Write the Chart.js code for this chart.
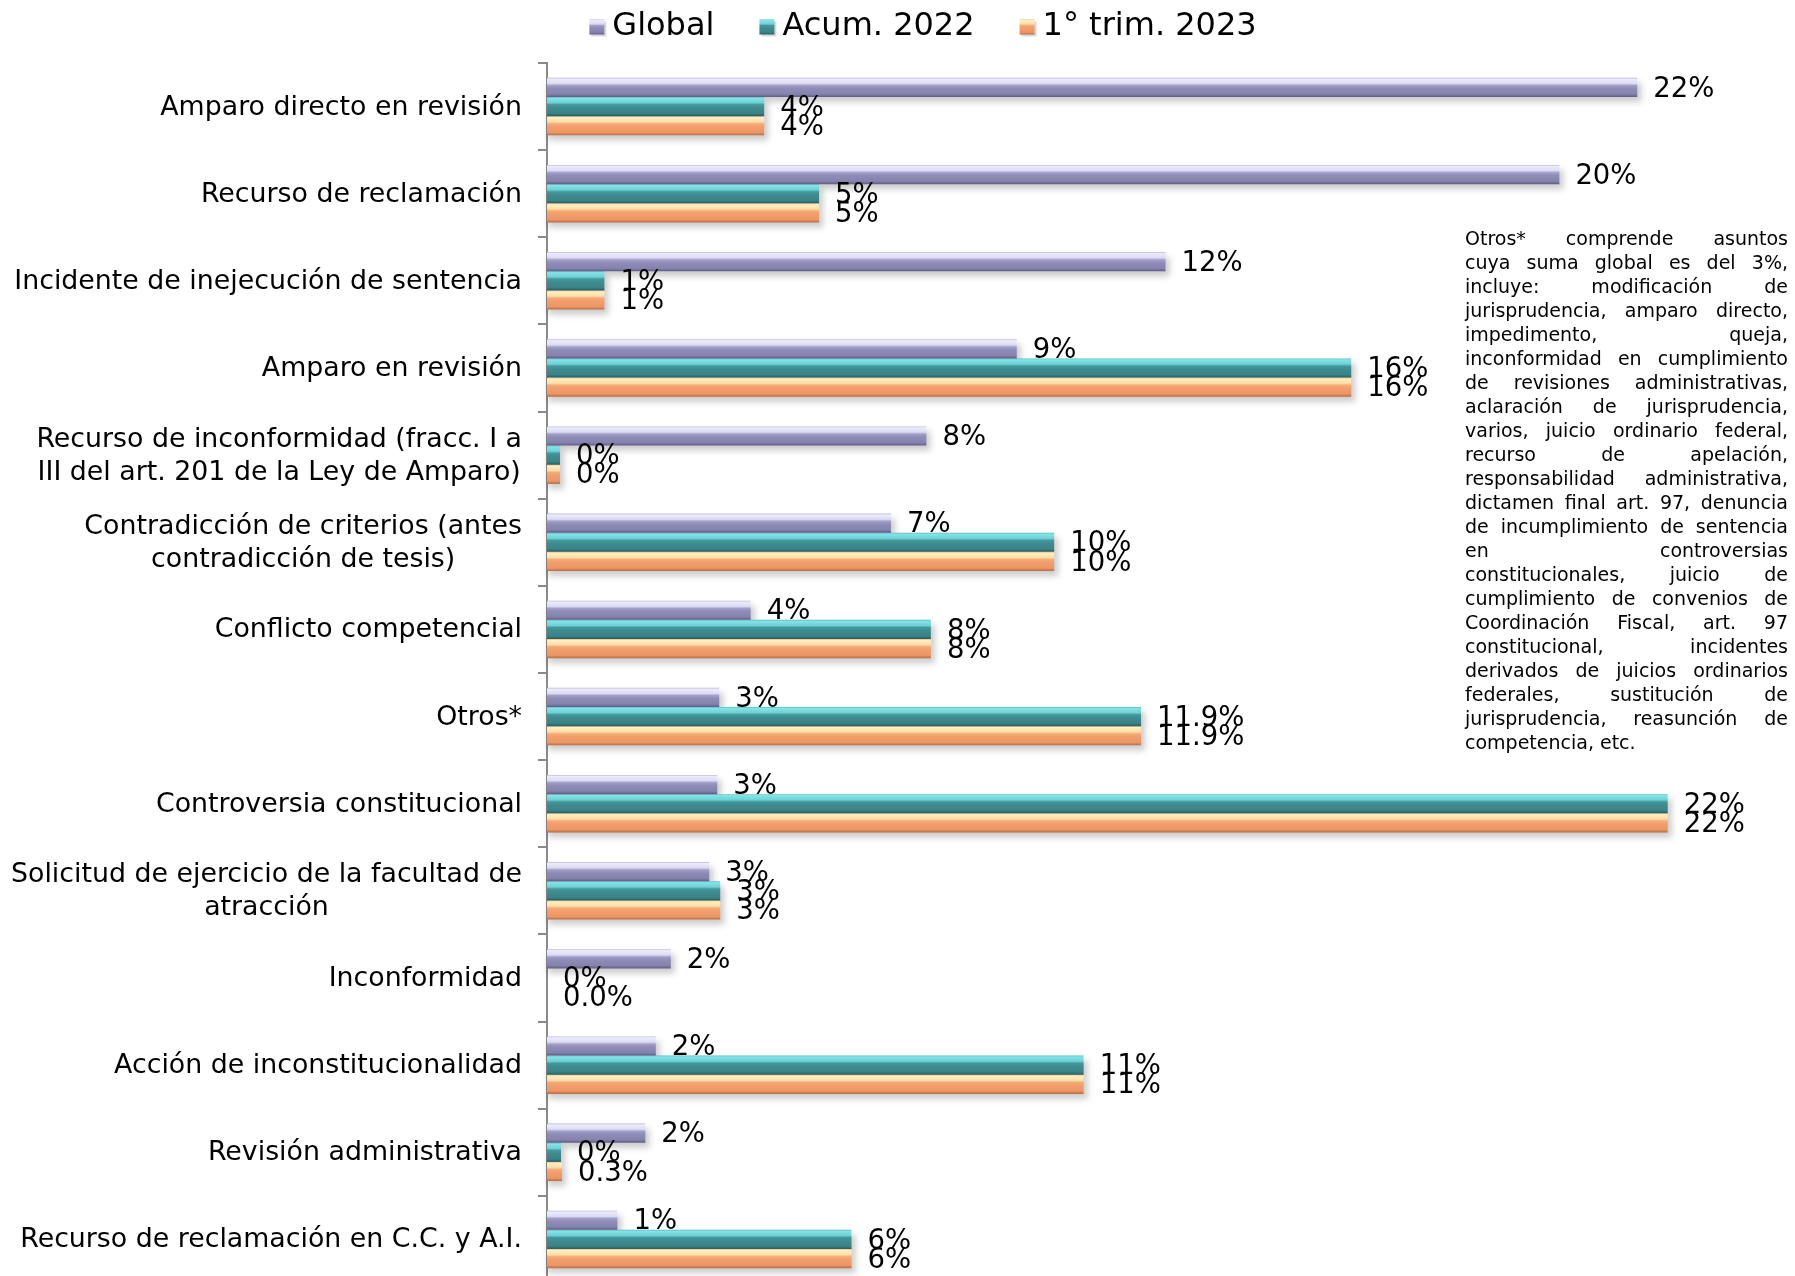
<!DOCTYPE html>
<html>
<head>
<meta charset="utf-8">
<script src="https://cdn.jsdelivr.net/npm/chart.js@4.4.1/dist/chart.umd.min.js"></script>
<style>
html,body{margin:0;padding:0;background:#ffffff;overflow:hidden;width:1795px;height:1276px;}
#wrap{position:absolute;left:0;top:0;width:1795px;height:1284px;}
#note{position:absolute;left:1465px;top:226px;width:323px;font-family:"DejaVu Sans";font-size:19px;line-height:24px;color:#000;}
#note div{text-align:justify;text-align-last:justify;white-space:nowrap;}
#note div.last{text-align:left;text-align-last:left;}
</style>
</head>
<body>
<div id="wrap"><canvas id="c" width="1795" height="1284"></canvas></div>
<div id="note">
<div>Otros* comprende asuntos</div>
<div>cuya suma global es del 3%,</div>
<div>incluye: modificación de</div>
<div>jurisprudencia, amparo directo,</div>
<div>impedimento, queja,</div>
<div>inconformidad en cumplimiento</div>
<div>de revisiones administrativas,</div>
<div>aclaración de jurisprudencia,</div>
<div>varios, juicio ordinario federal,</div>
<div>recurso de apelación,</div>
<div>responsabilidad administrativa,</div>
<div>dictamen final art. 97, denuncia</div>
<div>de incumplimiento de sentencia</div>
<div>en controversias</div>
<div>constitucionales, juicio de</div>
<div>cumplimiento de convenios de</div>
<div>Coordinación Fiscal, art. 97</div>
<div>constitucional, incidentes</div>
<div>derivados de juicios ordinarios</div>
<div>federales, sustitución de</div>
<div>jurisprudencia, reasunción de</div>
<div class="last">competencia, etc.</div>
</div>
<script>
// ---------------- DATA ----------------
const categories = [
  'Amparo directo en revisión',
  'Recurso de reclamación',
  'Incidente de inejecución de sentencia',
  'Amparo en revisión',
  ['Recurso de inconformidad (fracc. I a', 'III del art. 201 de la Ley de Amparo)'],
  ['Contradicción de criterios (antes', 'contradicción de tesis)'],
  'Conflicto competencial',
  'Otros*',
  'Controversia constitucional',
  ['Solicitud de ejercicio de la facultad de', 'atracción'],
  'Inconformidad',
  'Acción de inconstitucionalidad',
  'Revisión administrativa',
  'Recurso de reclamación en C.C. y A.I.'
];
const seriesNames = ['Global', 'Acum. 2022', '1° trim. 2023'];
const globalValues = [21.84, 20.28, 12.39, 9.41, 7.6, 6.89, 4.08, 3.45, 3.41, 3.25, 2.48, 2.18, 1.97, 1.41];
const acumValues   = [4.35, 5.45, 1.15, 16.11, 0.26, 10.16, 7.69, 11.9, 22.45, 3.47, 0, 10.75, 0.28, 6.1];
const trimValues   = [4.35, 5.45, 1.15, 16.11, 0.26, 10.16, 7.69, 11.9, 22.45, 3.47, 0, 10.75, 0.3, 6.1];
const globalLabels = ['22%','20%','12%','9%','8%','7%','4%','3%','3%','3%','2%','2%','2%','1%'];
const acumLabels   = ['4%','5%','1%','16%','0%','10%','8%','11.9%','22%','3%','0%','11%','0%','6%'];
const trimLabels   = ['4%','5%','1%','16%','0%','10%','8%','11.9%','22%','3%','0.0%','11%','0.3%','6%'];

// ---------------- STYLE ----------------
const FONT = '"DejaVu Sans", Verdana, sans-serif';
const CAT_PCT = 0.66;
const stopsGlobal = [[0,'#b8b6da'],[0.07,'#ececfb'],[0.3,'#dcdaf2'],[0.4,'#a2a0ca'],[0.55,'#8f8db8'],[0.85,'#8583ae'],[1,'#5e5c84']];
const stopsAcum   = [[0,'#52bcc0'],[0.07,'#86e2e6'],[0.3,'#6ad2d6'],[0.4,'#45989c'],[0.55,'#3f8c90'],[0.85,'#3a8387'],[1,'#255c5e']];
const stopsTrim   = [[0,'#f2b47c'],[0.07,'#fff0c2'],[0.3,'#ffdca6'],[0.4,'#f6aa78'],[0.55,'#f29e6c'],[0.85,'#ec9664'],[1,'#b46c44']];
const flat = ['#8f8db8','#3f8c90','#f29e6c'];

function gradFill(stops, flatColor) {
  return function(ctx) {
    const chart = ctx.chart;
    const ys = chart.scales && chart.scales.y;
    if (ctx.type !== 'data' || !ys) return flatColor;
    const c = ys.getPixelForValue(ctx.dataIndex);
    if (!isFinite(c)) return flatColor;
    const catH = ys.height / chart.data.labels.length;
    const g = catH * CAT_PCT;
    const bw = g / 3;
    const top = c - g / 2 + bw * ctx.datasetIndex;
    const grad = chart.ctx.createLinearGradient(0, top, 0, top + bw);
    stops.forEach(s => grad.addColorStop(s[0], s[1]));
    return grad;
  };
}
function markerFill(ctx, stops, y, h) {
  const grad = ctx.createLinearGradient(0, y, 0, y + h);
  stops.forEach(s => grad.addColorStop(s[0], s[1]));
  return grad;
}

const valueLabels = [globalLabels, acumLabels, trimLabels];
const allStops = [stopsGlobal, stopsAcum, stopsTrim];

// shadows under bars
const shadowPlugin = {
  id: 'shadows',
  beforeDatasetsDraw(chart) {
    const ctx = chart.ctx;
    ctx.save();
    ctx.filter = 'blur(3px)';
    ctx.fillStyle = 'rgba(0,0,0,0.2)';
    chart.data.datasets.forEach((ds, i) => {
      chart.getDatasetMeta(i).data.forEach(el => {
        const p = el.getProps(['x','y','base','height'], true);
        const w = p.x - p.base;
        if (w <= 0) return;
        ctx.fillRect(p.base + 1, p.y - p.height / 2 + 5, w + 3, p.height);
      });
    });
    ctx.restore();
  }
};

// value labels
const labelPlugin = {
  id: 'valueLabels',
  afterDatasetsDraw(chart) {
    const ctx = chart.ctx;
    ctx.save();
    ctx.font = '27.5px ' + FONT;
    ctx.fillStyle = '#000';
    ctx.textAlign = 'left';
    ctx.textBaseline = 'middle';
    chart.data.datasets.forEach((ds, i) => {
      chart.getDatasetMeta(i).data.forEach((el, j) => {
        const p = el.getProps(['x','y'], true);
        ctx.fillText(valueLabels[i][j], p.x + 16, p.y + 2);
      });
    });
    ctx.restore();
  }
};

// category labels: block right-aligned, lines centred within block
const catLabelPlugin = {
  id: 'catLabels',
  afterDraw(chart) {
    const ctx = chart.ctx;
    const ys = chart.scales.y;
    const right = 522;
    const lh = 33;
    ctx.save();
    ctx.font = '26.8px ' + FONT;
    ctx.fillStyle = '#000';
    ctx.textBaseline = 'middle';
    ctx.textAlign = 'center';
    chart.data.labels.forEach((lab, i) => {
      const lines = Array.isArray(lab) ? lab : [lab];
      const maxW = Math.max(...lines.map(l => ctx.measureText(l).width));
      const cx = right - maxW / 2;
      const cy = ys.getPixelForValue(i) + 1;
      const y0 = cy - (lines.length - 1) * lh / 2;
      lines.forEach((l, k) => ctx.fillText(l, cx, y0 + k * lh));
    });
    ctx.restore();
  }
};

// legend
const legendPlugin = {
  id: 'customLegend',
  afterDraw(chart) {
    const ctx = chart.ctx;
    ctx.save();
    ctx.font = '32px ' + FONT;
    ctx.textBaseline = 'middle';
    ctx.textAlign = 'left';
    const box = 15, gapBox = 8, gapItem = 45, cy = 27;
    const items = chart.data.datasets.map(d => d.label);
    const widths = items.map(t => box + gapBox + ctx.measureText(t).width);
    const total = widths.reduce((a, b) => a + b, 0) + gapItem * (items.length - 1);
    let x = 923 - total / 2;
    items.forEach((t, i) => {
      const y = cy - box / 2;
      ctx.fillStyle = 'rgba(0,0,0,0.15)';
      ctx.fillRect(x + 2, y + 2, box, box);
      ctx.fillStyle = markerFill(ctx, allStops[i], y, box);
      ctx.fillRect(x, y, box, box);
      ctx.fillStyle = '#000';
      ctx.fillText(t, x + box + gapBox, cy);
      x += widths[i] + gapItem;
    });
    ctx.restore();
  }
};

new Chart(document.getElementById('c'), {
  type: 'bar',
  data: {
    labels: categories,
    datasets: [
      { label: seriesNames[0], data: globalValues, backgroundColor: gradFill(stopsGlobal, flat[0]) },
      { label: seriesNames[1], data: acumValues,   backgroundColor: gradFill(stopsAcum, flat[1]) },
      { label: seriesNames[2], data: trimValues,   backgroundColor: gradFill(stopsTrim, flat[2]) }
    ]
  },
  options: {
    indexAxis: 'y',
    responsive: false,
    animation: false,
    devicePixelRatio: 1,
    events: [],
    datasets: { bar: { categoryPercentage: CAT_PCT, barPercentage: 1, borderWidth: 0 } },
    layout: { padding: { top: 63, right: 0, bottom: 1, left: 0 } },
    plugins: { legend: { display: false }, tooltip: { enabled: false } },
    scales: {
      x: { display: false, min: 0, max: 25 },
      y: {
        ticks: { display: false },
        grid: { display: true, drawOnChartArea: false, drawTicks: true, tickLength: 9, color: '#8a8a8a', lineWidth: 2, offset: true },
        border: { display: true, color: '#8a8a8a', width: 2 },
        afterFit(scale) { scale.width = 547; }
      }
    }
  },
  plugins: [shadowPlugin, labelPlugin, catLabelPlugin, legendPlugin]
});
</script>
</body>
</html>
